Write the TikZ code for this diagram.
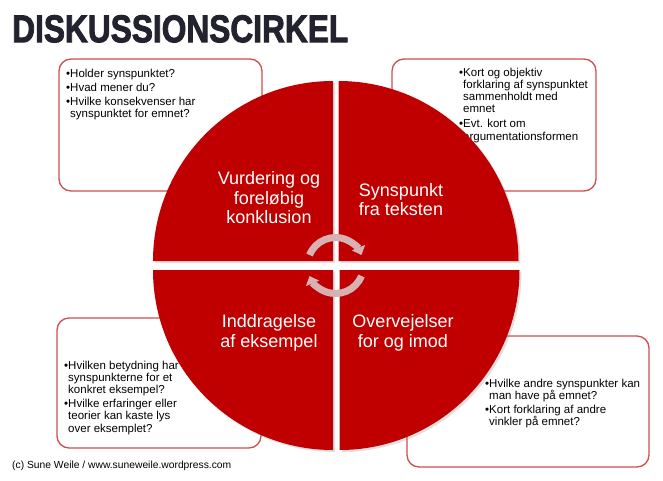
\documentclass[tikz,border=0pt]{standalone}
\usepackage{fontspec}
\setmainfont{Liberation Sans}
\newfontfamily\titelfont{Liberation Sans Bold}[FakeBold=2.5]
\usetikzlibrary{arrows.meta}
\usetikzlibrary{shadows}
\definecolor{cirkelrod}{RGB}{192,0,0}
\definecolor{kantrod}{RGB}{208,78,78}
\definecolor{pilrosa}{RGB}{216,178,178}
\definecolor{titelbla}{RGB}{35,35,48}

\begin{document}
\begin{tikzpicture}[x=1pt, y=-1pt, >={Triangle[length=8pt,width=14pt]}]
    \tikzstyle{infobox} = [draw=kantrod, line width=1.3pt, fill=white, rounded corners=12pt, inner sep=0pt];
    \tikzstyle{punkter} = [anchor=north west, align=left, inner sep=0pt, font=\fontsize{11.5}{12.2}\selectfont];
    \tikzstyle{kvadrant} = [fill=cirkelrod, drop shadow={opacity=0.25, shadow xshift=2pt, shadow yshift=-2pt}];
    \tikzstyle{fase} = [text=white, align=center, inner sep=0pt, font=\fontsize{18}{19.5}\selectfont];
    \tikzstyle{pil} = [->, draw=pilrosa, line width=7pt];
    \useasboundingbox (0,0) rectangle (663,480);

    \node [anchor=north west, inner sep=0pt, text=titelbla] (titel) at (12,15) {\resizebox{336pt}{27pt}{\titelfont DISKUSSIONSCIRKEL}};

    \node [infobox, minimum width=203pt, minimum height=132pt] (vbox) at (160.5,125) {};
    \node [infobox, minimum width=204pt, minimum height=132pt] (sbox) at (494,125) {};
    \node [infobox, minimum width=204pt, minimum height=130pt] (ibox) at (159,383) {};
    \node [infobox, minimum width=242pt, minimum height=131pt] (obox) at (528,401.5) {};

    \node [punkter] (vtekst) at (66,68.5) {•Holder synspunktet?\\[2pt]
    •Hvad mener du?\\[2pt]
    •Hvilke konsekvenser har\\ \phantom{•}synspunktet for emnet?};
    \node [punkter] (stekst) at (459,67.5) {•Kort og objektiv\\ \phantom{•}forklaring af synspunktet\\
    \phantom{•}sammenholdt med\\ \phantom{•}emnet\\[3pt]
    •Evt. kort om\\ \phantom{•}argumentationsformen};
    \node [punkter] (itekst) at (64,360.5) {•Hvilken betydning har\\ \phantom{•}synspunkterne for et\\
    \phantom{•}konkret eksempel?\\[2pt]
    •Hvilke erfaringer eller\\ \phantom{•}teorier kan kaste lys\\ \phantom{•}over eksemplet?};
    \node [punkter] (otekst) at (485,378.5) {•Hvilke andre synspunkter kan\\ \phantom{•}man have på emnet?\\[2pt]
    •Kort forklaring af andre\\ \phantom{•}vinkler på emnet?};

    \fill [kvadrant] (333,261) -- +(180:180) arc[start angle=180, end angle=270, radius=180] -- cycle;
    \fill [kvadrant] (338.5,261) -- +(270:180) arc[start angle=270, end angle=360, radius=180] -- cycle;
    \fill [kvadrant] (339.5,270) -- +(0:180) arc[start angle=0, end angle=90, radius=180] -- cycle;
    \fill [kvadrant] (333,270) -- +(90:180) arc[start angle=90, end angle=180, radius=180] -- cycle;

    \coordinate (midte) at (335.5,265.5);
    \draw [pil] (midte) ++(202:28) arc[start angle=202, end angle=338, radius=28];
    \draw [pil] (midte) ++(22:28) arc[start angle=22, end angle=158, radius=28];

    \node [fase] (vurdering) at (269,198) {Vurdering og\\foreløbig\\konklusion};
    \node [fase] (synspunkt) at (401,199.5) {Synspunkt\\fra teksten};
    \node [fase] (inddragelse) at (269,333) {Inddragelse\\af eksempel};
    \node [fase] (overvejelser) at (403,333) {Overvejelser\\for og imod};

    \node [anchor=west, inner sep=0pt, font=\fontsize{10.3}{12}\selectfont] (kilde) at (12,466) {(c) Sune Weile / www.suneweile.wordpress.com};
  \end{tikzpicture}
\end{document}
